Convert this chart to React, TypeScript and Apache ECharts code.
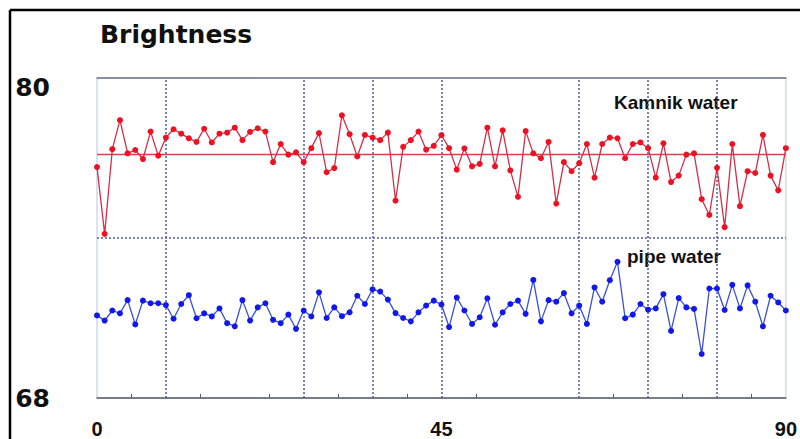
import React, { useEffect, useRef } from "react";
import * as echarts from "echarts";

const kamnikWater: number[] = [
  76.92, 74.34, 77.61, 78.73, 77.45, 77.58, 77.23, 78.29, 77.36, 78.06,
  78.38, 78.21, 78.03, 77.89, 78.4, 77.87, 78.21, 78.25, 78.44, 77.96,
  78.28, 78.42, 78.29, 77.11, 77.81, 77.4, 77.49, 77.11, 77.65, 78.23,
  76.72, 76.88, 78.92, 78.19, 77.33, 78.16, 78.06, 77.96, 78.25, 75.62,
  77.7, 77.96, 78.29, 77.59, 77.74, 78.15, 77.65, 76.82, 77.64, 76.95,
  77.04, 78.44, 76.95, 78.34, 76.79, 75.77, 78.31, 77.45, 77.26, 77.89,
  75.51, 77.11, 76.76, 77.07, 77.81, 76.51, 77.81, 78.06, 78.03, 77.26,
  77.81, 77.87, 77.65, 76.51, 77.84, 76.34, 76.59, 77.4, 77.45, 75.68,
  75.07, 76.89, 74.6, 77.81, 75.41, 76.76, 76.69, 78.16, 76.59, 76.02,
  77.65,
];

const pipeWater: number[] = [
  71.19, 70.99, 71.38, 71.27, 71.78, 70.84, 71.76, 71.66, 71.66, 71.59,
  71.06, 71.63, 71.97, 71.08, 71.27, 71.15, 71.46, 70.89, 70.77, 71.78,
  70.99, 71.5, 71.66, 71.02, 70.89, 71.22, 70.67, 71.38, 71.15, 72.08,
  71.09, 71.5, 71.16, 71.31, 71.95, 71.63, 72.2, 72.11, 71.8, 71.28,
  71.09, 70.96, 71.31, 71.57, 71.76, 71.61, 70.74, 71.88, 71.38, 70.86,
  71.12, 71.85, 70.83, 71.31, 71.63, 71.76, 71.25, 72.56, 70.96, 71.78,
  71.72, 72.05, 71.27, 71.57, 70.86, 72.27, 71.72, 72.55, 73.26, 71.08,
  71.22, 71.63, 71.41, 71.46, 72.01, 70.59, 71.86, 71.5, 71.44, 69.7,
  72.23, 72.23, 71.4, 72.37, 71.46, 72.35, 71.72, 70.77, 71.95, 71.69,
  71.38,
];

const xLabelValues: number[] = [0, 45, 90];
const yLabelValues: number[] = [68, 80];
const xTickValues: number[] = [4.5, 13.5, 22.5, 31.5, 40.5, 49.5, 67.5, 76.5, 85.5];
const verticalGuides: number[] = [9, 27, 36, 45, 63, 72, 81];
const kamnikMean = 77.4;
const lowerGuide = 74.2;

const seriesNames = ["Kamnik water", "pipe water"];

export default function App() {
  const ref = useRef<HTMLDivElement>(null);

  useEffect(() => {
    if (!ref.current) return;
    const chart = echarts.init(ref.current, null, { renderer: "svg" });
    const toPairs = (arr: number[]) => arr.map((v, i) => [i, v]);
    const dotted = { color: "#4a5e98", width: 1.5, type: [2, 2] as any };

    chart.setOption({
      animation: false,
      backgroundColor: "#ffffff",
      title: {
        text: "Brightness",
        left: 95,
        top: 17,
        textStyle: {
          fontFamily: "'DejaVu Sans', sans-serif",
          fontWeight: "bold",
          fontSize: 25,
          color: "#111",
        },
      },
      grid: {
        left: 97,
        right: 12,
        top: 78,
        bottom: 37,
        show: true,
        borderColor: "#b8c4e0",
        borderWidth: 1,
        backgroundColor: "transparent",
      },
      xAxis: [
        {
          type: "value",
          min: 0,
          max: 90,
          interval: 45,
          splitLine: { show: false },
          axisLine: { show: true, lineStyle: { color: "#555c66", width: 1.5 } },
          axisTick: {
            show: true,
            inside: true,
            length: 4,
            customValues: xTickValues,
            lineStyle: { color: "#555c66", width: 1 },
          },
          axisLabel: {
            customValues: xLabelValues,
            margin: 21,
            fontFamily: "'Liberation Sans', Arial, sans-serif",
            fontWeight: "bold",
            fontSize: 20,
            color: "#111",
          },
        },
        {
          type: "value",
          position: "top",
          min: 0,
          max: 90,
          axisLine: { show: true, lineStyle: { color: "#6a7688", width: 1.5 } },
          axisTick: { show: false },
          axisLabel: { show: false },
          splitLine: { show: false },
        },
      ],
      yAxis: {
        type: "value",
        min: 68,
        max: 80.36,
        interval: 4,
        splitLine: { show: false },
        axisLine: { show: false },
        axisTick: { show: false },
        axisLabel: {
          customValues: yLabelValues,
          formatter: (v: number) => (v === 68 || v === 80 ? String(v) : ""),
          margin: 47,
          fontFamily: "'DejaVu Sans', sans-serif",
          fontWeight: "bold",
          fontSize: 25,
          color: "#111",
        },
      },
      series: [
        {
          name: seriesNames[0],
          type: "line",
          data: toPairs(kamnikWater),
          symbol: "circle",
          symbolSize: 6,
          itemStyle: { color: "#ee1122" },
          lineStyle: { color: "#d03048", width: 1.3 },
          z: 5,
          markLine: {
            silent: true,
            symbol: "none",
            label: { show: false },
            data: [
              ...verticalGuides.map((x) => ({ xAxis: x, lineStyle: dotted })),
              { yAxis: lowerGuide, lineStyle: dotted },
              { yAxis: kamnikMean, lineStyle: { color: "#d84050", width: 1.3, type: "solid" } },
            ],
          },
        },
        {
          name: seriesNames[1],
          type: "line",
          data: toPairs(pipeWater),
          symbol: "circle",
          symbolSize: 6,
          itemStyle: { color: "#1018ee" },
          lineStyle: { color: "#3a50d8", width: 1.3 },
          z: 5,
        },
      ],
      graphic: [
        {
          type: "line",
          shape: { x1: 10, y1: 10, x2: 800, y2: 10 },
          style: { stroke: "#000", lineWidth: 2.5 },
          silent: true,
        },
        {
          type: "line",
          shape: { x1: 10, y1: 10, x2: 10, y2: 439 },
          style: { stroke: "#000", lineWidth: 2.5 },
          silent: true,
        },
        {
          type: "text",
          left: 614,
          top: 93,
          style: {
            text: seriesNames[0],
            fontFamily: "'Liberation Sans', Arial, sans-serif",
            fontWeight: "bold",
            fontSize: 19,
            fill: "#111",
          },
        },
        {
          type: "text",
          left: 627,
          top: 247,
          style: {
            text: seriesNames[1],
            fontFamily: "'Liberation Sans', Arial, sans-serif",
            fontWeight: "bold",
            fontSize: 19,
            fill: "#111",
          },
        },
      ],
    });

    return () => chart.dispose();
  }, []);

  return (
    <div
      ref={ref}
      style={{ position: "fixed", left: 0, top: 0, width: 800, height: 439 }}
    />
  );
}
